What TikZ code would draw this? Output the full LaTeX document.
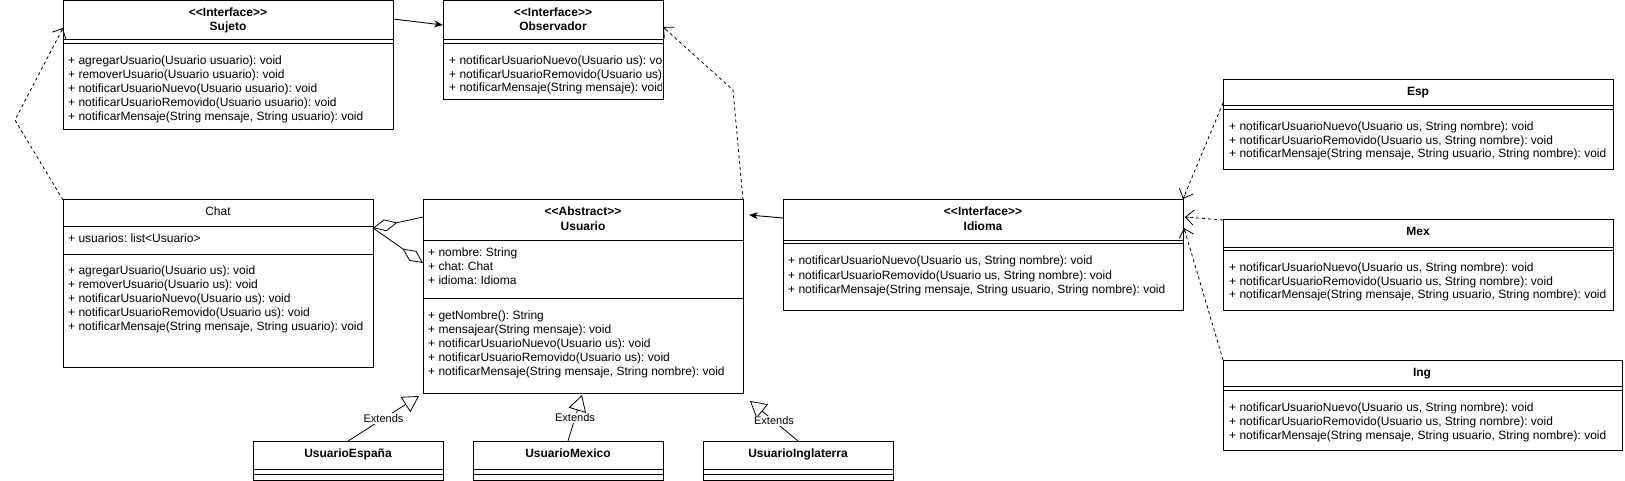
\documentclass[tikz,border=0pt]{standalone}
\usepackage{fontspec}
\setmainfont{Liberation Sans}[Ligatures=TeXOff]
\usetikzlibrary{arrows.meta,calc}
\newcommand\umlsep[3]{\draw[sep] (#1,#3) -- (#2,#3);}
\frenchspacing
\begin{document}
\frenchspacing
\begin{tikzpicture}[x=1pt,y=-1pt,
  box/.style={draw, line width=1pt, fill=white, inner sep=0pt, outer sep=0pt, anchor=north west},
  txt/.style={anchor=west, inner sep=0pt, font=\fontsize{12}{14}\selectfont, text height=8.6pt, text depth=2.6pt},
  ttl/.style={anchor=center, inner sep=0pt, font=\fontsize{12}{14}\selectfont\bfseries, text height=8.6pt, text depth=2.6pt},
  ttlr/.style={ttl, font=\fontsize{12}{14}\selectfont},
  sep/.style={line width=1pt},
  dsh/.style={line width=0.8pt, dash pattern=on 3pt off 3pt},
  barb/.style={line width=0.8pt, -{Straight Barb[length=8pt,width=15pt]}},
  assoc/.style={line width=0.9pt, -{Stealth[length=9pt,width=7pt]}},
  ext/.style={line width=0.8pt, -{Triangle[open,length=16pt,width=18pt,fill=white]}},
  aggs/.style={line width=0.8pt, {Diamond[open,length=25pt,width=12pt,fill=white]}-},
  agge/.style={line width=0.8pt, -{Diamond[open,length=25pt,width=12pt,fill=white]}},
  lbl/.style={fill=white, inner sep=1pt, font=\fontsize{11}{13}\selectfont}
]
\useasboundingbox (0,0) rectangle (1625,481);

% ---------- Sujeto
\node[box, minimum width=330pt, minimum height=129pt] (sujeto) at (63,1) {};
\umlsep{63}{393}{40}\umlsep{63}{393}{44}
\node[ttl] (sujS) at (228,14) {<<Interface>>};
\node[ttl] (sujN) at (228,28) {Sujeto};
\node[txt] (suj1) at (68,62) {+ agregarUsuario(Usuario usuario): void};
\node[txt] (suj2) at (68,76) {+ removerUsuario(Usuario usuario): void};
\node[txt] (suj3) at (68,90) {+ notificarUsuarioNuevo(Usuario usuario): void};
\node[txt] (suj4) at (68,104) {+ notificarUsuarioRemovido(Usuario usuario): void};
\node[txt] (suj5) at (68,118) {+ notificarMensaje(String mensaje, String usuario): void};

% ---------- Observador
\node[box, minimum width=220pt, minimum height=99pt] (obs) at (443,1) {};
\umlsep{443}{663}{40}\umlsep{443}{663}{44}
\node[ttl] (obsS) at (553,14) {<<Interface>>};
\node[ttl] (obsN) at (553,28) {Observador};
\begin{scope}
\clip (obs.north west) rectangle ($(obs.south east)+(-1.5,0)$);
\node[txt] (obs1) at (449,62) {+ notificarUsuarioNuevo(Usuario us): void};
\node[txt] (obs2) at (449,76) {+ notificarUsuarioRemovido(Usuario us): void};
\node[txt] (obs3) at (449,89) {+ notificarMensaje(String mensaje): void};
\end{scope}

% ---------- Chat
\node[box, minimum width=310pt, minimum height=167pt] (chat) at (63,200) {};
\umlsep{63}{373}{227}\umlsep{63}{373}{254}
\node[ttlr] (chatN) at (218,213) {Chat};
\node[txt] (chatA) at (68,240) {+ usuarios: list<Usuario>};
\node[txt] (chat1) at (68,271) {+ agregarUsuario(Usuario us): void};
\node[txt] (chat2) at (68,285) {+ removerUsuario(Usuario us): void};
\node[txt] (chat3) at (68,299) {+ notificarUsuarioNuevo(Usuario us): void};
\node[txt] (chat4) at (68,313) {+ notificarUsuarioRemovido(Usuario us): void};
\node[txt] (chat5) at (68,327) {+ notificarMensaje(String mensaje, String usuario): void};

% ---------- Usuario
\node[box, minimum width=320pt, minimum height=193pt] (usu) at (423,200) {};
\umlsep{423}{743}{241}\umlsep{423}{743}{298}
\node[ttl] (usuS) at (583,213) {<<Abstract>>};
\node[ttl] (usuN) at (583,227) {Usuario};
\node[txt] (usuA1) at (428,253) {+ nombre: String};
\node[txt] (usuA2) at (428,267) {+ chat: Chat};
\node[txt] (usuA3) at (428,281) {+ idioma: Idioma};
\node[txt] (usu1) at (428,316) {+ getNombre(): String};
\node[txt] (usu2) at (428,330) {+ mensajear(String mensaje): void};
\node[txt] (usu3) at (428,344) {+ notificarUsuarioNuevo(Usuario us): void};
\node[txt] (usu4) at (428,358) {+ notificarUsuarioRemovido(Usuario us): void};
\node[txt] (usu5) at (428,372) {+ notificarMensaje(String mensaje, String nombre): void};

% ---------- Idioma
\node[box, minimum width=400pt, minimum height=110pt] (idi) at (783,200) {};
\umlsep{783}{1183}{241}\umlsep{783}{1183}{244}
\node[ttl] (idiS) at (983,213) {<<Interface>>};
\node[ttl] (idiN) at (983,227) {Idioma};
\node[txt] (idi1) at (788,262) {+ notificarUsuarioNuevo(Usuario us, String nombre): void};
\node[txt] (idi2) at (788,276) {+ notificarUsuarioRemovido(Usuario us, String nombre): void};
\node[txt] (idi3) at (788,290) {+ notificarMensaje(String mensaje, String usuario, String nombre): void};

% ---------- Esp
\node[box, minimum width=390pt, minimum height=90pt] (esp) at (1223,80) {};
\umlsep{1223}{1613}{106}\umlsep{1223}{1613}{110}
\node[ttl] (espN) at (1418,93) {Esp};
\node[txt] (esp1) at (1229,128) {+ notificarUsuarioNuevo(Usuario us, String nombre): void};
\node[txt] (esp2) at (1229,142) {+ notificarUsuarioRemovido(Usuario us, String nombre): void};
\node[txt] (esp3) at (1229,155) {+ notificarMensaje(String mensaje, String usuario, String nombre): void};

% ---------- Mex
\node[box, minimum width=390pt, minimum height=90pt] (mex) at (1223,220) {};
\umlsep{1223}{1613}{247}\umlsep{1223}{1613}{250}
\node[ttl] (mexN) at (1418,233) {Mex};
\node[txt] (mex1) at (1229,268) {+ notificarUsuarioNuevo(Usuario us, String nombre): void};
\node[txt] (mex2) at (1229,282) {+ notificarUsuarioRemovido(Usuario us, String nombre): void};
\node[txt] (mex3) at (1229,295) {+ notificarMensaje(String mensaje, String usuario, String nombre): void};

% ---------- Ing
\node[box, minimum width=399pt, minimum height=90pt] (ing) at (1223,360) {};
\umlsep{1223}{1622}{386}\umlsep{1223}{1622}{390}
\node[ttl] (ingN) at (1422,373) {Ing};
\node[txt] (ing1) at (1229,408) {+ notificarUsuarioNuevo(Usuario us, String nombre): void};
\node[txt] (ing2) at (1229,422) {+ notificarUsuarioRemovido(Usuario us, String nombre): void};
\node[txt] (ing3) at (1229,436) {+ notificarMensaje(String mensaje, String usuario, String nombre): void};

% ---------- subclasses
\node[box, minimum width=190pt, minimum height=39pt] (uesp) at (253,441) {};
\umlsep{253}{443}{469}\umlsep{253}{443}{474}
\node[ttl] (uespN) at (348,454) {UsuarioEspaña};
\node[box, minimum width=190pt, minimum height=39pt] (umex) at (473,441) {};
\umlsep{473}{663}{469}\umlsep{473}{663}{474}
\node[ttl] (umexN) at (568,454) {UsuarioMexico};
\node[box, minimum width=190pt, minimum height=39pt] (uing) at (703,441) {};
\umlsep{703}{893}{469}\umlsep{703}{893}{474}
\node[ttl] (uingN) at (798,454) {UsuarioInglaterra};

% ---------- connector points
\coordinate (bendA) at (15,120);
\coordinate (bendB) at (733,90);
\coordinate (e1) at (419,396);
\coordinate (e2) at (582,395);
\coordinate (e3) at (750,401);
\coordinate (idiTip) at (749,215);
\coordinate (sujIn) at ($(sujeto.north west)+(0,27)$);
\coordinate (obsIn) at ($(obs.north east)+(0,26)$);
\coordinate (espOut) at ($(esp.north west)+(0,23)$);
\coordinate (idiA) at ($(idi.north east)+(0,-1)$);
\coordinate (idiB) at ($(idi.north east)+(2,17)$);
\coordinate (idiC) at ($(idi.north east)+(1,28)$);

% solid associations
\draw[assoc] ($(sujeto.north east)+(0,18)$) -- ($(obs.north west)+(0,24)$);
\draw[assoc] ($(idi.north west)+(0,18)$) -- (idiTip);

% dashed realizations (dashed line + solid open tip)
\draw[dsh] (chat.north west) -- (bendA) -- (sujIn);
\draw[barb] ($(sujIn)!4pt!(bendA)$) -- (sujIn);
\draw[dsh] (usu.north east) -- (bendB) -- (obsIn);
\draw[barb] ($(obsIn)!4pt!(bendB)$) -- (obsIn);
\draw[dsh] (espOut) -- (idiA);
\draw[barb] ($(idiA)!4pt!(espOut)$) -- (idiA);
\draw[dsh] (mex.north west) -- (idiB);
\draw[barb] ($(idiB)!4pt!(mex.north west)$) -- (idiB);
\draw[dsh] (ing.north west) -- (idiC);
\draw[barb] ($(idiC)!4pt!(ing.north west)$) -- (idiC);

% aggregations
\draw[aggs] ($(chat.north east)+(0,28)$) -- ($(usu.north west)+(0,17)$);
\draw[agge] ($(chat.north east)+(0,28)$) -- ($(usu.north west)+(0,63)$);

% generalizations
\draw[ext] (uesp.north) -- node[lbl] (l1) {Extends} (e1);
\draw[ext] (umex.north) -- node[lbl] (l2) {Extends} (e2);
\draw[ext] (uing.north) -- node[lbl] (l3) {Extends} (e3);
\end{tikzpicture}
\end{document}
